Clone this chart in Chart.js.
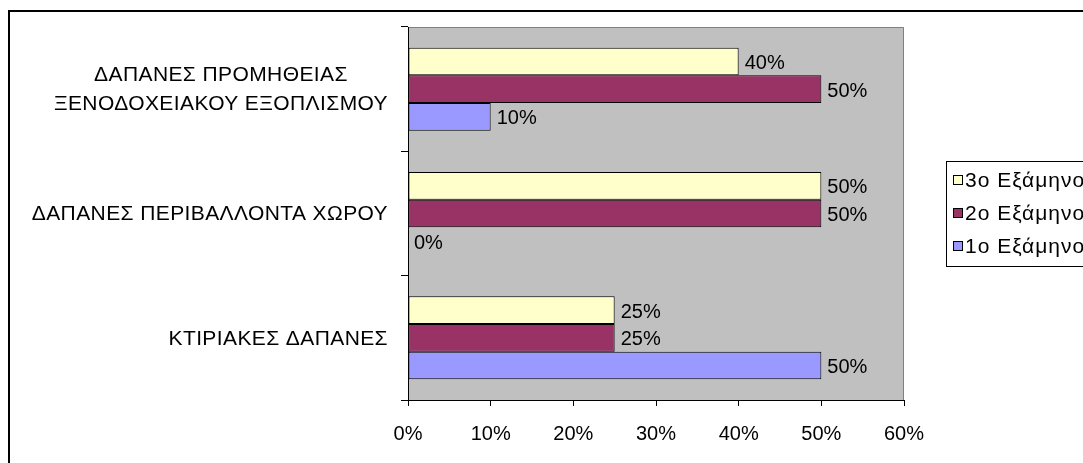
<!DOCTYPE html>
<html>
<head>
<meta charset="utf-8">
<script src="https://cdn.jsdelivr.net/npm/chart.js@4"></script>
<style>
  html, body { margin: 0; padding: 0; background: #fff; overflow: hidden; }
  #wrap { width: 1083px; height: 463px; position: relative; }
</style>
</head>
<body>
<div id="wrap"><canvas id="costChart" width="1083" height="463"></canvas></div>
<script>
// categories, top to bottom
const categories = [
    ['ΔΑΠΑΝΕΣ ΠΡΟΜΗΘΕΙΑΣ', 'ΞΕΝΟΔΟΧΕΙΑΚΟΥ ΕΞΟΠΛΙΣΜΟΥ'],
    'ΔΑΠΑΝΕΣ ΠΕΡΙΒΑΛΛΟΝΤΑ ΧΩΡΟΥ',
    'ΚΤΙΡΙΑΚΕΣ ΔΑΠΑΝΕΣ'
]
// series (percent)
const seriesNames = ['3ο Εξάμηνο', '2ο Εξάμηνο', '1ο Εξάμηνο']
const sem3 = [40, 50, 25]
const sem2 = [50, 50, 25]
const sem1 = [10, 0, 50]
const xTicks = [0, 10, 20, 30, 40, 50, 60]

const colors = ['#FFFFCC', '#993366', '#9999FF']
const font = "'Liberation Sans', Arial, sans-serif"

// gray plot area, outer frame, category labels, value labels and legend
const excelLook = {
    id: 'excelLook',
    beforeDraw(chart) {
        const ctx = chart.ctx
        const a = chart.chartArea
        ctx.save()
        ctx.fillStyle = '#C0C0C0'
        ctx.fillRect(a.left, a.top, a.right - a.left, a.bottom - a.top)
        ctx.strokeStyle = '#808080'
        ctx.lineWidth = 1
        ctx.beginPath()
        ctx.moveTo(a.left, a.top + 0.5)
        ctx.lineTo(a.right - 0.5, a.top + 0.5)
        ctx.lineTo(a.right - 0.5, a.bottom)
        ctx.stroke()
        ctx.restore()
    },
    afterDraw(chart) {
        const ctx = chart.ctx
        const yScale = chart.scales.y
        ctx.save()

        // outer frame (runs off the right and bottom)
        ctx.strokeStyle = '#000'
        ctx.lineWidth = 2
        ctx.strokeRect(9, 11, 2000, 2000)

        // category labels: block right aligned, lines centered in block
        ctx.fillStyle = '#000'
        ctx.font = '21px ' + font
        ctx.letterSpacing = '0.4px'
        ctx.textBaseline = 'middle'
        ctx.textAlign = 'center'
        const lineH = 29
        categories.forEach((label, i) => {
            const lines = Array.isArray(label) ? label : [label]
            const w = Math.max(...lines.map(l => ctx.measureText(l).width))
            const cx = 388 - w / 2
            const y = yScale.getPixelForValue(i)
            lines.forEach((l, j) => {
                ctx.fillText(l, cx, y + 1 + (j - (lines.length - 1) / 2) * lineH)
            })
        })

        // value labels
        ctx.font = '20px ' + font
        ctx.letterSpacing = '0px'
        ctx.textAlign = 'left'
        chart.data.datasets.forEach((ds, di) => {
            chart.getDatasetMeta(di).data.forEach((bar, i) => {
                ctx.fillText(ds.data[i] + '%', bar.x + 6, bar.y + 2)
            })
        })

        // legend (box runs off the right edge)
        const lx = 946, ly = 161
        ctx.fillStyle = '#fff'
        ctx.fillRect(lx, ly, 200, 105)
        ctx.strokeStyle = '#000'
        ctx.lineWidth = 1
        ctx.strokeRect(lx + 0.5, ly + 0.5, 200, 105)
        ctx.font = '21px ' + font
        ctx.letterSpacing = '1px'
        seriesNames.forEach((name, i) => {
            const ry = 180 + i * 33
            ctx.fillStyle = colors[i]
            ctx.fillRect(953.5, ry - 4.5, 9, 9)
            ctx.strokeStyle = '#000'
            ctx.strokeRect(953.5, ry - 4.5, 9, 9)
            ctx.fillStyle = '#000'
            ctx.fillText(name, 965, ry + 1)
        })
        ctx.restore()
    }
}

const datasets = [sem3, sem2, sem1].map((vals, i) => ({
    label: seriesNames[i],
    data: vals,
    backgroundColor: colors[i],
    borderColor: '#000',
    borderWidth: 1,
    borderSkipped: false,
    categoryPercentage: 0.667,
    barPercentage: 1
}))

new Chart(document.getElementById('costChart'), {
    type: 'bar',
    data: { labels: categories, datasets: datasets },
    options: {
        indexAxis: 'y',
        responsive: false,
        animation: false,
        events: [],
        layout: { padding: { left: 8, top: 27, right: 179, bottom: 23 } },
        plugins: { legend: { display: false }, tooltip: { enabled: false } },
        scales: {
            x: {
                min: 0,
                max: 60,
                afterBuildTicks: scale => { scale.ticks = xTicks.map(v => ({ value: v })) },
                afterFit: scale => { scale.height = 40 },
                border: { color: '#000', width: 1 },
                grid: { drawOnChartArea: false, color: '#000', tickLength: 6 },
                ticks: {
                    color: '#000',
                    padding: 16,
                    maxRotation: 0,
                    font: { family: font, size: 20 },
                    callback: v => v + '%'
                }
            },
            y: {
                afterFit: scale => { scale.width = 400 },
                border: { color: '#000', width: 1 },
                grid: { drawOnChartArea: false, color: '#000', tickLength: 7, offset: true },
                ticks: { display: false }
            }
        }
    },
    plugins: [excelLook]
})
</script>
</body>
</html>
